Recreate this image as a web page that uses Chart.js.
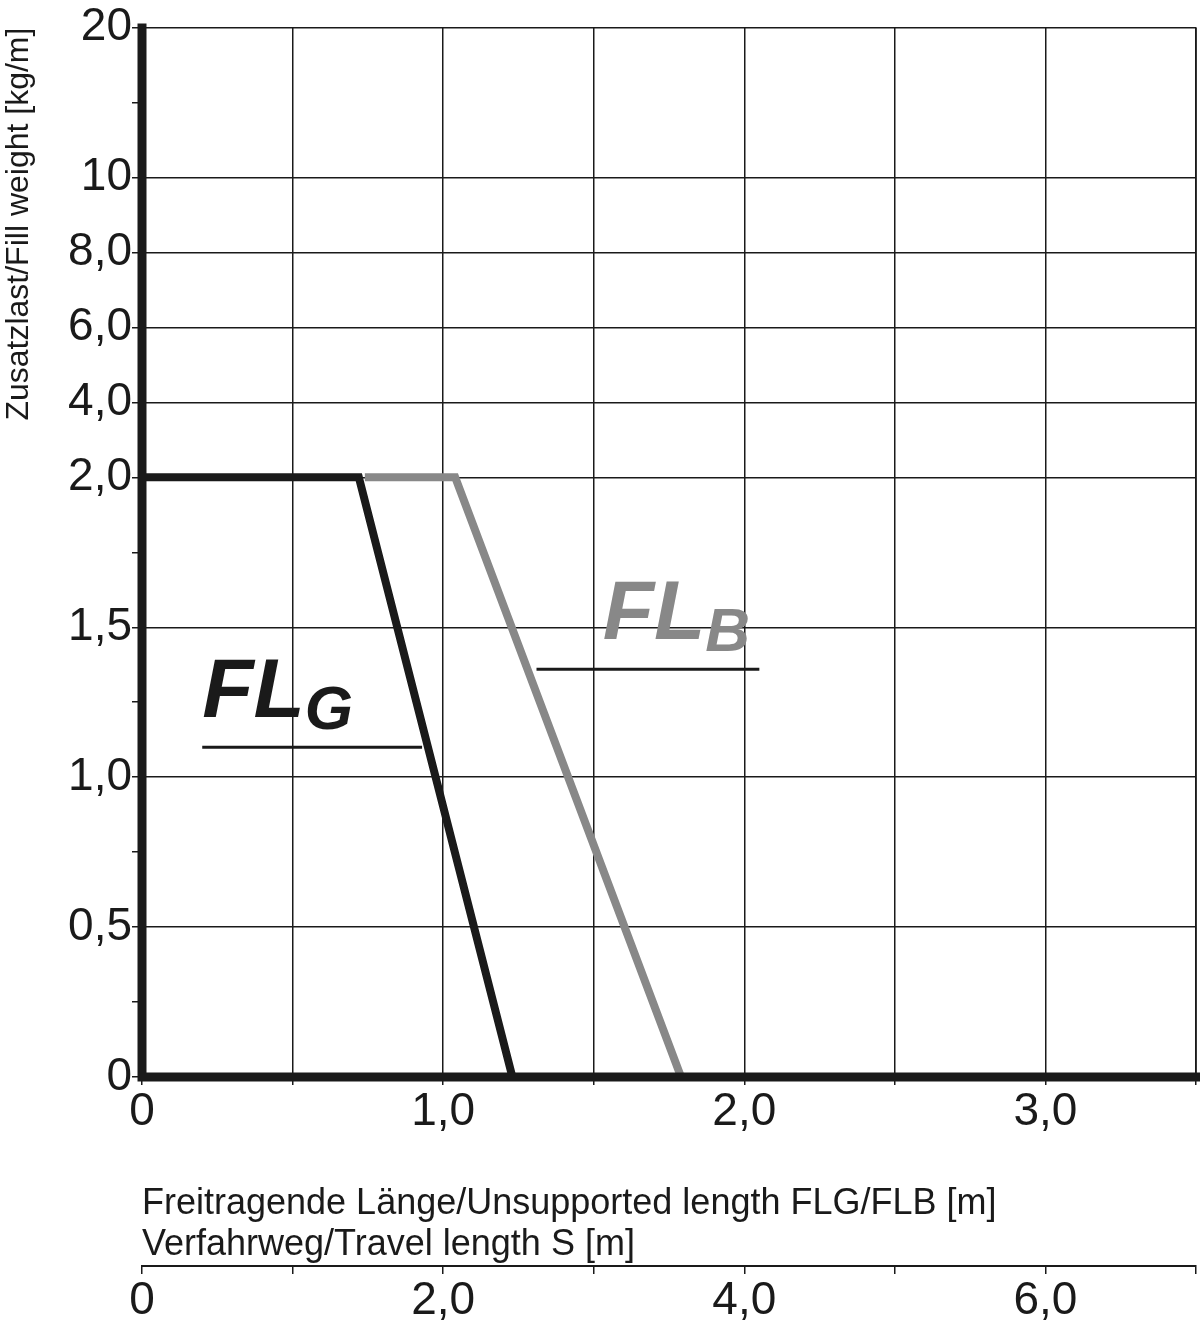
<!DOCTYPE html>
<html><head><meta charset="utf-8">
<script src="https://cdn.jsdelivr.net/npm/chart.js@4/dist/chart.umd.min.js"></script>
<style>html,body{margin:0;background:#fff}#wrap{width:1200px;height:1341px}</style>
</head><body><div id="wrap"><canvas id="c"></canvas></div>
<script>
// y-axis values and their labels (non-linear spacing)
const yTicks = [0, 0.5, 1.0, 1.5, 2.0, 4.0, 6.0, 8.0, 10, 20];
const yLabels = ['0', '0,5', '1,0', '1,5', '2,0', '4,0', '6,0', '8,0', '10', '20'];
const yPos = [0, 1, 2, 3, 4, 4.5, 5, 5.5, 6, 7];
const xLabels = {0: '0', 1: '1,0', 2: '2,0', 3: '3,0'};
const x2Labels = {0: '0', 2: '2,0', 4: '4,0', 6: '6,0'};

const flgX = [0, 0.72, 1.23];
const flgY = [2.0, 2.0, 0];
const flbX = [0.74, 1.04, 1.79];
const flbY = [2.0, 2.0, 0];

function mapY(v) {
  for (let i = 1; i < yTicks.length; i++) {
    if (v <= yTicks[i]) {
      const t = (v - yTicks[i-1]) / (yTicks[i] - yTicks[i-1]);
      return yPos[i-1] + t * (yPos[i] - yPos[i-1]);
    }
  }
  return yPos[yPos.length - 1];
}
const pts = (xs, ys) => xs.map((x, i) => ({x: x, y: mapY(ys[i])}));
const tickFont = {family: 'Liberation Sans', size: 46};

const labelPlugin = {
  id: 'labels',
  afterDraw(chart) {
    const {ctx, scales: {x, y}} = chart;
    ctx.save();
    const lab = (main, sub, lx, ly, col) => {
      ctx.fillStyle = col;
      ctx.font = 'italic bold 84px "Liberation Sans"';
      ctx.textBaseline = 'alphabetic';
      const px = x.getPixelForValue(lx), py = y.getPixelForValue(mapY(ly));
      ctx.fillText(main, px, py);
      const w = ctx.measureText(main).width;
      ctx.font = 'italic bold 62px "Liberation Sans"';
      ctx.fillText(sub, px + w, py + 12);
    };
    const line = (x1, x2, ly, col) => {
      ctx.strokeStyle = col; ctx.lineWidth = 3;
      ctx.beginPath();
      ctx.moveTo(x.getPixelForValue(x1), y.getPixelForValue(mapY(ly)));
      ctx.lineTo(x.getPixelForValue(x2), y.getPixelForValue(mapY(ly)));
      ctx.stroke();
    };
    lab('FL', 'G', 0.2, 1.2, '#1a1a1a');
    line(0.2, 0.93, 1.1, '#1a1a1a');
    lab('FL', 'B', 1.53, 1.46, '#888');
    line(1.31, 2.05, 1.36, '#1a1a1a');
    // thick left and bottom frame, thin right edge
    ctx.strokeStyle = '#1a1a1a'; ctx.lineWidth = 1.5;
    ctx.beginPath(); ctx.moveTo(x.right, y.top); ctx.lineTo(x.right, y.bottom); ctx.stroke();
    ctx.lineWidth = 9;
    ctx.beginPath();
    ctx.moveTo(x.left, y.top - 4); ctx.lineTo(x.left, y.bottom); ctx.lineTo(x.right + 4, y.bottom);
    ctx.stroke();
    ctx.restore();
  }
};

new Chart(document.getElementById('c'), {
  type: 'scatter',
  data: {datasets: [
    {data: pts(flbX, flbY), showLine: true, borderColor: '#888', borderWidth: 8, pointRadius: 0, xAxisID: 'x'},
    {data: pts(flgX, flgY), showLine: true, borderColor: '#1a1a1a', borderWidth: 8, pointRadius: 0, xAxisID: 'x'}
  ]},
  options: {
    responsive: true, maintainAspectRatio: false, animation: false,
    layout: {padding: {top: 22, right: 4, left: 0, bottom: 0}},
    plugins: {legend: {display: false}, tooltip: {enabled: false}},
    scales: {
      y: {
        type: 'linear', min: 0, max: 7,
        afterBuildTicks: s => { s.ticks = [0,0.5,1,1.5,2,2.5,3,3.5,4,4.5,5,5.5,6,6.5,7].map(v => ({value: v})); },
        afterFit: s => { s.width = 142; },
        grid: {
          lineWidth: 1.5, tickLength: 10,
          color: c => yPos.includes(c.tick.value) ? '#1a1a1a' : 'rgba(0,0,0,0)',
          tickColor: '#1a1a1a'
        },
        border: {display: false},
        ticks: {
          color: '#1a1a1a', padding: 0, font: tickFont,
          callback: v => { const i = yPos.indexOf(v); return i >= 0 ? yLabels[i] : ''; }
        },
        title: {display: true, align: 'end', text: 'Zusatzlast/Fill weight [kg/m]', color: '#1a1a1a',
          font: {family: 'Liberation Sans', size: 32}, padding: {top: 0, bottom: 0}}
      },
      x: {
        type: 'linear', min: 0, max: 3.5, position: 'bottom',
        afterBuildTicks: s => { s.ticks = [0,0.5,1,1.5,2,2.5,3,3.5].map(v => ({value: v})); },
        afterFit: s => { s.height = 189; },
        grid: {color: '#1a1a1a', lineWidth: 1.5, tickLength: 8, tickColor: '#1a1a1a'},
        border: {display: false},
        ticks: {color: '#1a1a1a', padding: 0, font: tickFont,
          callback: v => xLabels[v] !== undefined ? xLabels[v] : ''},
        title: {display: true, align: 'start', color: '#1a1a1a',
          text: ['Freitragende Länge/Unsupported length FLG/FLB [m]', 'Verfahrweg/Travel length S [m]'],
          font: {family: 'Liberation Sans', size: 36, lineHeight: 1.15}, padding: {top: 0, bottom: 0}}
      },
      x2: {
        type: 'linear', min: 0, max: 7, position: 'bottom',
        afterBuildTicks: s => { s.ticks = [0,1,2,3,4,5,6,7].map(v => ({value: v})); },
        afterFit: s => { s.height = 75; },
        grid: {drawOnChartArea: false, color: '#1a1a1a', lineWidth: 1.5, tickLength: 8},
        border: {display: true, color: '#1a1a1a', width: 2},
        ticks: {color: '#1a1a1a', padding: 0, font: tickFont,
          callback: v => x2Labels[v] !== undefined ? x2Labels[v] : ''}
      }
    }
  },
  plugins: [labelPlugin]
});
</script></body></html>
